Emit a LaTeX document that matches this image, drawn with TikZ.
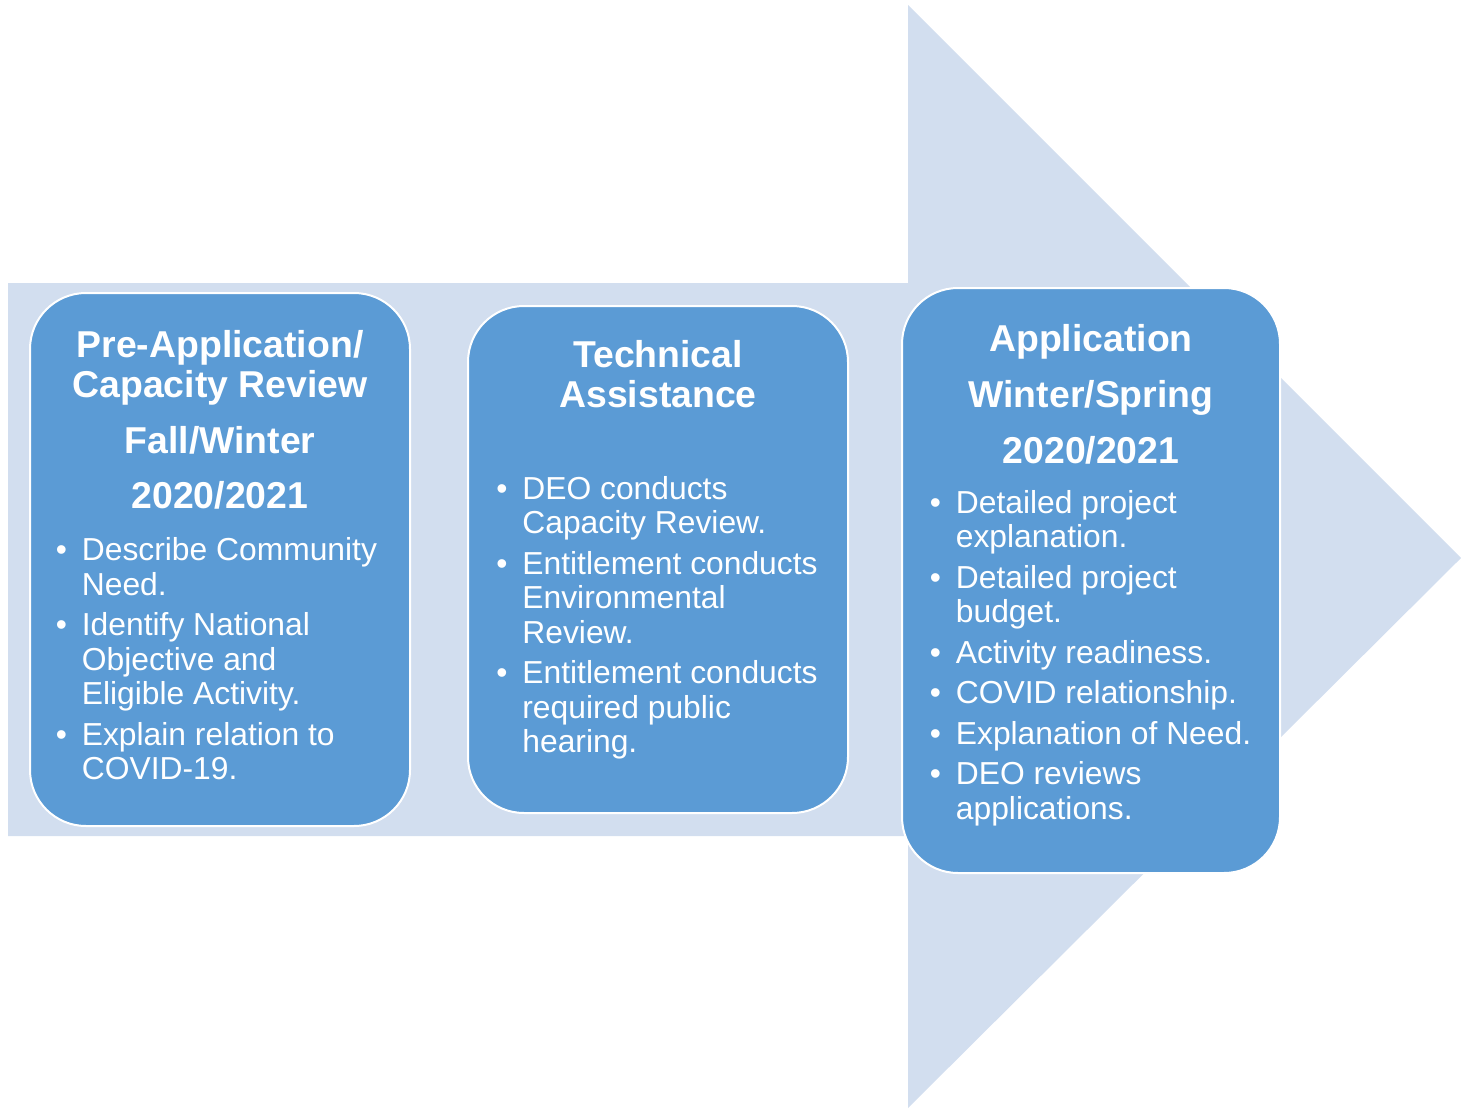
\documentclass[tikz,border=0pt]{standalone}
\usepackage{fontspec}
\setmainfont{Liberation Sans}
\usetikzlibrary{shapes,positioning}
\definecolor{stagefill}{HTML}{5B9BD5}
\definecolor{arrowfill}{HTML}{D2DEEF}
\newcommand{\bul}{\makebox[13pt][l]{\textbullet}}

\begin{document}
\begin{tikzpicture}[x=0.5pt, y=-0.5pt,
			stage/.style={rectangle, rounded corners=28pt, draw=white, line width=1pt, fill=stagefill, minimum width=190pt},
			heading/.style={anchor=base, inner sep=0pt, text=white, font=\fontsize{18.7}{20}\selectfont\bfseries},
			items/.style={anchor=base west, inner sep=0pt, text=white, font=\fontsize{15.9}{17.25}\selectfont}
		]
		\useasboundingbox (0,0) rectangle (1461,1108);

		% Background arrow
		\fill[arrowfill] (8,283) -- (908,283) -- (908,5) -- (1461,558) -- (908,1108) -- (908,836) -- (8,836) -- cycle;

		% Pre-Application
		\node[stage, minimum height=266.5pt] (pre) at (220,559.5) {};
		\node[heading] (pretitle) at (220,357) {\begin{tabular}[t]{@{}c@{}}
			Pre-Application/\\ Capacity Review\\[8pt] Fall/Winter\\[7.5pt] 2020/2021
		\end{tabular}};
		\node[items] (prelist) at (55.5,560.5) {\begin{tabular}[t]{@{}l@{}l@{}}
			\bul & Describe Community\\ & Need.\\[3pt]
			\bul & Identify National\\ & Objective and\\ & Eligible Activity.\\[3pt]
			\bul & Explain relation to\\ & COVID-19.
		\end{tabular}};

		% Technical Assistance
		\node[stage, minimum height=253.5pt] (ta) at (658,559.5) {};
		\node[heading] (tatitle) at (658,367) {\begin{tabular}[t]{@{}c@{}}
			Technical\\ Assistance
		\end{tabular}};
		\node[items] (talist) at (496,499) {\begin{tabular}[t]{@{}l@{}l@{}}
			\bul & DEO conducts\\ & Capacity Review.\\[3pt]
			\bul & Entitlement conducts\\ & Environmental\\ & Review.\\[3pt]
			\bul & Entitlement conducts\\ & required public\\ & hearing.
		\end{tabular}};

		% Application
		\node[stage, minimum width=189pt, minimum height=292.5pt] (app) at (1091,580.5) {};
		\node[heading] (apptitle) at (1091,351) {\begin{tabular}[t]{@{}c@{}}
			Application\\[8pt] Winter/Spring\\[8pt] 2020/2021
		\end{tabular}};
		\node[items] (applist) at (929.5,513) {\begin{tabular}[t]{@{}l@{}l@{}}
			\bul & Detailed project\\ & explanation.\\[3pt]
			\bul & Detailed project\\ & budget.\\[3pt]
			\bul & Activity readiness.\\[3pt]
			\bul & COVID relationship.\\[3pt]
			\bul & Explanation of Need.\\[3pt]
			\bul & DEO reviews\\ & applications.
		\end{tabular}};

	\end{tikzpicture}
\end{document}
